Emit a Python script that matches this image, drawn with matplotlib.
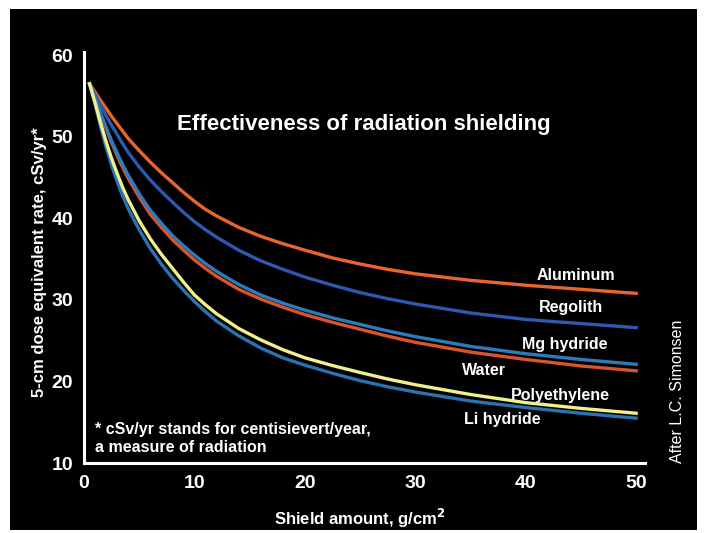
import matplotlib
matplotlib.use("Agg")
import matplotlib.pyplot as plt
from matplotlib.patches import Rectangle

plt.rcParams['font.family'] = ['Liberation Sans', 'DejaVu Sans']

# shield amount, g/cm2
shield = [0.5, 1, 1.5, 2, 2.5, 3, 3.5, 4, 5, 6, 7, 8, 9, 10, 11, 12, 14, 16, 18, 20,
          22.5, 25, 27.5, 30, 35, 40, 45, 50]

# 5-cm dose equivalent rate, cSv/yr
aluminum = [56.5, 55.5, 54.45, 53.5, 52.5, 51.6, 50.7, 49.8, 48.3, 46.9, 45.6, 44.4, 43.2, 42.1,
            41.1, 40.3, 38.9, 37.8, 36.9, 36.1, 35.15, 34.4, 33.75, 33.2, 32.4, 31.8, 31.3, 30.8]
regolith = [56.5, 55.2, 53.85, 52.6, 51.4, 50.3, 49.15, 48.1, 46.3, 44.7, 43.3, 42.0, 40.75, 39.6,
            38.6, 37.7, 36.1, 34.8, 33.75, 32.8, 31.8, 30.9, 30.15, 29.5, 28.4, 27.6, 27.1, 26.6]
mg_hydride = [56.5, 54.8, 52.9, 51.2, 49.5, 48.0, 46.6, 45.3, 43.0, 41.0, 39.4, 37.9, 36.65, 35.5,
              34.45, 33.5, 31.9, 30.6, 29.6, 28.75, 27.8, 27.0, 26.2, 25.5, 24.3, 23.4, 22.7, 22.1]
water = [56.5, 54.7, 52.7, 51.0, 49.3, 47.7, 46.25, 44.9, 42.6, 40.5, 38.9, 37.4, 36.1, 34.9,
         33.85, 32.9, 31.3, 30.1, 29.1, 28.2, 27.25, 26.4, 25.55, 24.8, 23.6, 22.7, 21.9, 21.3]
polyethylene = [56.5, 54.2, 51.7, 49.4, 47.35, 45.5, 43.8, 42.3, 39.7, 37.5, 35.6, 33.9, 32.2, 30.6,
                29.4, 28.3, 26.5, 25.1, 23.9, 22.9, 21.95, 21.1, 20.3, 19.6, 18.4, 17.4, 16.7, 16.1]
li_hydride = [56.5, 54.0, 51.25, 48.7, 46.5, 44.5, 42.75, 41.2, 38.6, 36.3, 34.4, 32.7, 31.2, 29.8,
              28.55, 27.4, 25.6, 24.1, 22.9, 22.0, 21.0, 20.1, 19.35, 18.7, 17.6, 16.8, 16.1, 15.5]

xticks = [0, 10, 20, 30, 40, 50]
yticks = [10, 20, 30, 40, 50, 60]

fig = plt.figure(figsize=(7.04, 5.33), dpi=100, facecolor='white')
# black panel inside a thin white border
fig.patches.append(Rectangle((10 / 704, 3 / 533), 687 / 704, 521 / 533,
                             transform=fig.transFigure, facecolor='black',
                             edgecolor='none', zorder=-10))

ax = fig.add_axes([84 / 704, 70 / 533, 561 / 704, 411 / 533])
ax.set_facecolor('black')

lw = 2.4
ax.plot(shield, aluminum, color='#e8652c', lw=lw)
ax.plot(shield, regolith, color='#2f58b0', lw=lw)
ax.plot(shield, water, color='#d9542a', lw=lw)
ax.plot(shield, mg_hydride, color='#2f7ab8', lw=lw)
ax.plot(shield, li_hydride, color='#2b72b0', lw=lw)
ax.plot(shield, polyethylene, color='#f0f08c', lw=lw)

ax.set_xlim(0, 50.8)
ax.set_ylim(10, 60.4)
ax.set_xticks(xticks)
ax.set_yticks(yticks)
ax.tick_params(length=0, colors='white', labelsize=14)
ax.tick_params(axis='x', pad=9)
ax.tick_params(axis='y', pad=8)
for lab in ax.get_xticklabels() + ax.get_yticklabels():
    lab.set_fontweight('bold')

for s in ['top', 'right']:
    ax.spines[s].set_visible(False)
for s in ['left', 'bottom']:
    ax.spines[s].set_color('white')
    ax.spines[s].set_linewidth(2.2)

ax.text(25.3, 51.5, 'Effectiveness of radiation shielding', color='white',
        fontsize=16, fontweight='bold', ha='center', va='center')

labels = [(44.5, 33.0, 'Aluminum'), (44.1, 29.1, 'Regolith'), (43.5, 24.5, 'Mg hydride'),
          (36.2, 21.4, 'Water'), (43.1, 18.3, 'Polyethylene'), (37.9, 15.3, 'Li hydride')]
for x, y, t in labels:
    ax.text(x, y, t, color='white', fontsize=11.5, fontweight='bold', ha='center', va='center')

ax.text(1.0, 13.0, '* cSv/yr stands for centisievert/year,\na measure of radiation',
        color='white', fontsize=11.5, fontweight='bold', ha='left', va='center',
        linespacing=1.3)

fig.text(40 / 704, 0.508, '5-cm dose equivalent rate, cSv/yr*', color='white',
         fontsize=12, fontweight='bold', rotation=90, ha='center', va='center')
fig.text(360 / 704, 15 / 533, 'Shield amount, g/cm$^{\\mathbf{2}}$', color='white',
         fontsize=12, fontweight='bold', ha='center', va='center')
fig.text(677 / 704, 0.265, 'After L.C. Simonsen', color='white', fontsize=11.5,
         rotation=90, ha='center', va='center')

fig.savefig('out.png', dpi=100, facecolor='white')
